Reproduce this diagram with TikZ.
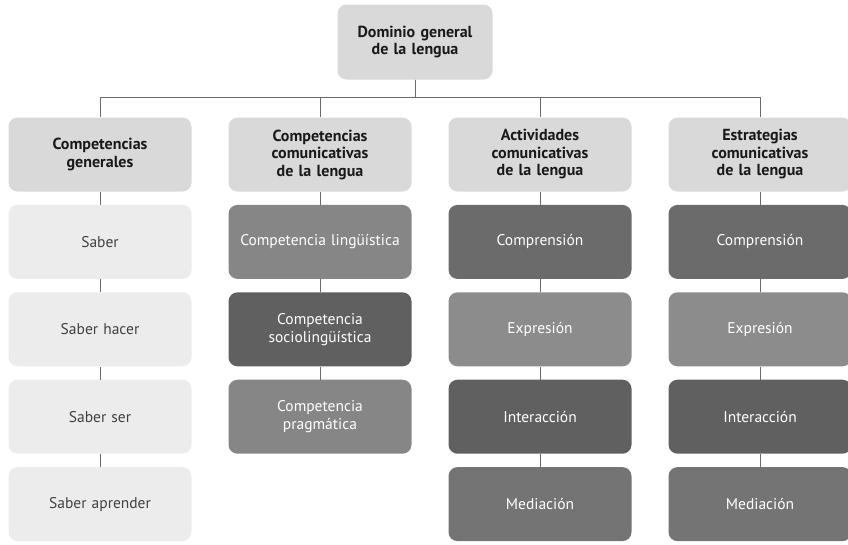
\documentclass[tikz,border=0pt]{standalone}
\usepackage{fontspec}
\setmainfont{PT Sans}
\usetikzlibrary{positioning}

\definecolor{headgray}{HTML}{D9D9D9}
\definecolor{palegray}{HTML}{ECECEC}
\definecolor{midgray}{HTML}{868686}
\definecolor{darkgray}{HTML}{606060}
\definecolor{deepgray}{HTML}{6B6B6B}
\definecolor{softgray}{HTML}{8C8C8C}
\definecolor{stemgray}{HTML}{747474}
\definecolor{linegray}{HTML}{6A6A6A}

\begin{document}
\begin{tikzpicture}[x=1pt, y=-1pt]
    % Define styles
    \tikzstyle{box} = [rounded corners=9pt, minimum width=183pt, minimum height=74pt, text width=180pt, align=center, inner sep=0pt, font=\fontsize{15.5}{18}\selectfont]
    \tikzstyle{head} = [box, fill=headgray, text=black!90, font=\fontsize{16}{17.5}\selectfont\bfseries]
    \tikzstyle{pale} = [box, fill=palegray, text=black!75]
    \tikzstyle{dark} = [box, text=white]
    \tikzstyle{link} = [draw=linegray, line width=0.9pt]

    \useasboundingbox (0,0) rectangle (848,544);

    % Root
    \node[head, minimum width=155pt, text width=150pt, minimum height=75pt] (dom) at (415,42) {Dominio general\\de la lengua};

    % Level 2 headers
    \node[head] (cg) at (100,154.5) {Competencias\\generales};
    \node[head] (ccl) at (320,154.5) {Competencias\\comunicativas\\de la lengua};
    \node[head] (acl) at (540,154.5) {Actividades\\comunicativas\\de la lengua};
    \node[head] (ecl) at (760,154.5) {Estrategias\\comunicativas\\de la lengua};

    % Column 1: competencias generales
    \node[pale, below=13pt of cg] (sab) {Saber};
    \node[pale, below=13pt of sab] (sabh) {Saber hacer};
    \node[pale, below=13pt of sabh] (sabs) {Saber ser};
    \node[pale, below=13pt of sabs] (saba) {Saber aprender};

    % Column 2: competencias comunicativas
    \node[dark, fill=midgray, below=13pt of ccl] (ling) {Competencia lingüística};
    \node[dark, fill=darkgray, below=13pt of ling] (socio) {Competencia\\sociolingüística};
    \node[dark, fill=midgray, below=13pt of socio] (prag) {Competencia\\pragmática};

    % Column 3: actividades
    \node[dark, fill=deepgray, below=13pt of acl] (acomp) {Comprensión};
    \node[dark, fill=softgray, below=13pt of acomp] (aexp) {Expresión};
    \node[dark, fill=darkgray, below=13pt of aexp] (aint) {Interacción};
    \node[dark, fill=stemgray, below=13pt of aint] (amed) {Mediación};

    % Column 4: estrategias
    \node[dark, fill=deepgray, below=13pt of ecl] (ecomp) {Comprensión};
    \node[dark, fill=softgray, below=13pt of ecomp] (eexp) {Expresión};
    \node[dark, fill=darkgray, below=13pt of eexp] (eint) {Interacción};
    \node[dark, fill=stemgray, below=13pt of eint] (emed) {Mediación};

    % Tree from the root
    \coordinate (bus) at (415,97.5);
    \foreach \c in {cg, ccl, acl, ecl}
        \draw[link] (dom.south) -- (bus) -| (\c.north);

    % Links down each column
    \draw[link] (cg.south) -- (sab.north);
    \draw[link] (sab.south) -- (sabh.north);
    \draw[link] (sabh.south) -- (sabs.north);
    \draw[link] (sabs.south) -- (saba.north);

    \draw[link] (ccl.south) -- (ling.north);
    \draw[link] (ling.south) -- (socio.north);
    \draw[link] (socio.south) -- (prag.north);

    \draw[link] (acl.south) -- (acomp.north);
    \draw[link] (acomp.south) -- (aexp.north);
    \draw[link] (aexp.south) -- (aint.north);
    \draw[link] (aint.south) -- (amed.north);

    \draw[link] (ecl.south) -- (ecomp.north);
    \draw[link] (ecomp.south) -- (eexp.north);
    \draw[link] (eexp.south) -- (eint.north);
    \draw[link] (eint.south) -- (emed.north);
\end{tikzpicture}
\end{document}
